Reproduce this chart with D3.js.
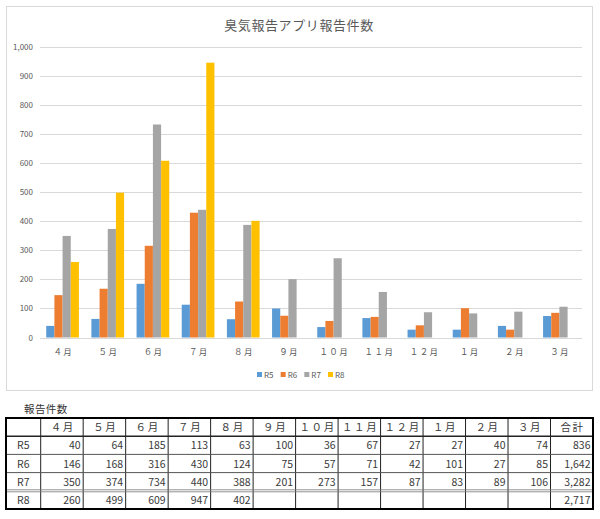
<!DOCTYPE html>
<html>
<head>
<meta charset="utf-8">
<script src="https://cdn.jsdelivr.net/npm/d3@7"></script>
<style>
    body { margin: 0; background: #fff; }
    text { font-family: "Noto Sans CJK JP", "Noto Sans", sans-serif; }
</style>
</head>
<body>
<div id="chart"></div>
<script>
// chart data
var chartTitle = "臭気報告アプリ報告件数";
var tableTitle = "報告件数";
var totalLabel = "合計";
var months = ["４月", "５月", "６月", "７月", "８月", "９月", "１０月", "１１月", "１２月", "１月", "２月", "３月"];
var seriesNames = ["R5", "R6", "R7", "R8"];
var r5 = [40, 64, 185, 113, 63, 100, 36, 67, 27, 27, 40, 74];
var r6 = [146, 168, 316, 430, 124, 75, 57, 71, 42, 101, 27, 85];
var r7 = [350, 374, 734, 440, 388, 201, 273, 157, 87, 83, 89, 106];
var r8 = [260, 499, 609, 947, 402, null, null, null, null, null, null, null];
var yTicks = [0, 100, 200, 300, 400, 500, 600, 700, 800, 900, 1000];

var app = app || {};

app.ReportChart = (function () {
    'use strict';

    var init = function (baseElement) {
        var config = configure(d3.select(baseElement));
        structure(config);
        bars(config);
        legend(config);
        table(config);
        return config;
    };

    var configure = function (base) {
        var colors, series;

        colors = {
            R5: "#5b9bd5", // blue
            R6: "#ed7d31", // orange
            R7: "#a5a5a5", // grey
            R8: "#ffc000", // yellow
            grid: "#d9d9d9",
            text: "#595959"
        };

        series = [r5, r6, r7, r8].map(function (values, i) {
            return { name: seriesNames[i], values: values };
        });

        return {
            base: base,
            width: 600,
            height: 519,
            colors: colors,
            series: series
        };
    };

    var structure = function (config) {
        var svg = config.base.append("svg")
            .attr("width", config.width)
            .attr("height", config.height);

        // chart frame
        svg.append("rect")
            .attr("x", 6.5).attr("y", 6.5)
            .attr("width", 586).attr("height", 384)
            .attr("fill", "#fff")
            .attr("stroke", config.colors.grid);

        svg.append("text")
            .attr("x", 299).attr("y", 30)
            .attr("text-anchor", "middle")
            .attr("font-size", 13)
            .attr("letter-spacing", 0.6)
            .attr("fill", config.colors.text)
            .text(chartTitle);

        config.x = d3.scaleBand().domain(months).range([40, 582])
            .paddingInner(0.276).paddingOuter(0.138);
        config.xs = d3.scaleBand().domain(seriesNames).range([0, config.x.bandwidth()]);
        config.y = d3.scaleLinear().domain([0, 1000]).range([337.5, 47.3]);

        // gridlines
        svg.append("g").selectAll("line")
            .data(yTicks)
            .enter().append("line")
            .attr("x1", 40).attr("x2", 582)
            .attr("y1", function (d) { return Math.round(config.y(d)) + 0.5; })
            .attr("y2", function (d) { return Math.round(config.y(d)) + 0.5; })
            .attr("stroke", config.colors.grid);

        svg.append("g").selectAll("text")
            .data(yTicks)
            .enter().append("text")
            .attr("x", 33)
            .attr("y", function (d) { return config.y(d) + 3; })
            .attr("text-anchor", "end")
            .attr("font-size", 8)
            .attr("fill", config.colors.text)
            .text(d3.format(","));

        svg.append("g").selectAll("text")
            .data(months)
            .enter().append("text")
            .attr("x", function (d) { return config.x(d) + config.x.bandwidth() / 2 + 0.7; })
            .attr("y", 355)
            .attr("text-anchor", "middle")
            .attr("font-size", 8.5)
            .attr("letter-spacing", 1.4)
            .attr("fill", config.colors.text)
            .text(function (d) { return d; });

        config.svg = svg;
    };

    var bars = function (config) {
        var groups = config.svg.append("g").selectAll("g")
            .data(config.series)
            .enter().append("g")
            .attr("fill", function (d) { return config.colors[d.name]; });

        groups.selectAll("rect")
            .data(function (s) {
                return s.values.map(function (v, i) {
                    return { name: s.name, month: months[i], value: v };
                }).filter(function (d) { return d.value != null; });
            })
            .enter().append("rect")
            .attr("x", function (d) { return config.x(d.month) + config.xs(d.name); })
            .attr("width", config.xs.bandwidth())
            .attr("y", function (d) { return config.y(d.value); })
            .attr("height", function (d) { return config.y(0) - config.y(d.value); });
    };

    var legend = function (config) {
        var lx = d3.scalePoint().domain(seriesNames).range([257, 328]);
        var items = config.svg.append("g").selectAll("g")
            .data(seriesNames)
            .enter().append("g")
            .attr("transform", function (d) { return "translate(" + lx(d) + ",372)"; });

        items.append("rect")
            .attr("width", 5).attr("height", 5)
            .attr("fill", function (d) { return config.colors[d]; });

        items.append("text")
            .attr("x", 7).attr("y", 5.5)
            .attr("font-size", 8)
            .attr("fill", config.colors.text)
            .text(function (d) { return d; });
    };

    var table = function (config) {
        var svg, cols, rows, fmt, cells, left, right, top, bottom, firstW;
        svg = config.svg;
        fmt = d3.format(",");
        left = 6; right = 593; top = 418; bottom = 509; firstW = 34.7;

        svg.append("text")
            .attr("x", 24).attr("y", 413)
            .attr("font-size", 10.5)
            .attr("letter-spacing", 0.4)
            .attr("fill", "#333")
            .text(tableTitle);

        cols = d3.scaleBand().domain(months.concat([totalLabel])).range([left + firstW, right]);
        rows = d3.scaleBand().domain(["head"].concat(seriesNames)).range([top, bottom]);

        var g = svg.append("g").attr("font-size", 10.5).attr("fill", "#3a3a3a");

        // header
        g.selectAll("text.head")
            .data(months.concat([totalLabel]))
            .enter().append("text")
            .attr("class", "head")
            .attr("x", function (d) { return cols(d) + cols.bandwidth() / 2 + 0.8; })
            .attr("y", rows("head") + rows.bandwidth() / 2 + 4)
            .attr("text-anchor", "middle")
            .attr("letter-spacing", 1.6)
            .text(function (d) { return d; });

        // row labels
        g.selectAll("text.row")
            .data(seriesNames)
            .enter().append("text")
            .attr("class", "row")
            .attr("x", left + firstW / 2)
            .attr("y", function (d) { return rows(d) + rows.bandwidth() / 2 + 4; })
            .attr("text-anchor", "middle")
            .text(function (d) { return d; });

        cells = [];
        config.series.forEach(function (s) {
            s.values.forEach(function (v, i) {
                if (v != null) cells.push({ row: s.name, col: months[i], text: fmt(v) });
            });
            cells.push({ row: s.name, col: totalLabel, text: fmt(d3.sum(s.values)) });
        });

        g.selectAll("text.cell")
            .data(cells)
            .enter().append("text")
            .attr("class", "cell")
            .attr("x", function (d) { return cols(d.col) + cols.bandwidth() - 2.5; })
            .attr("y", function (d) { return rows(d.row) + rows.bandwidth() / 2 + 4; })
            .attr("text-anchor", "end")
            .text(function (d) { return d.text; });

        // vertical lines
        svg.append("g").selectAll("line")
            .data(cols.domain())
            .enter().append("line")
            .attr("x1", function (d) { return cols(d); })
            .attr("x2", function (d) { return cols(d); })
            .attr("y1", top).attr("y2", bottom)
            .attr("stroke", "#222").attr("stroke-width", 1);

        // horizontal lines
        var hl = svg.append("g");
        hl.append("line")
            .attr("x1", left).attr("x2", right)
            .attr("y1", rows("R5")).attr("y2", rows("R5"))
            .attr("stroke", "#222").attr("stroke-width", 1.6);
        ["R6", "R7"].forEach(function (r) {
            hl.append("line")
                .attr("x1", left).attr("x2", right)
                .attr("y1", rows(r)).attr("y2", rows(r))
                .attr("stroke", "#555").attr("stroke-width", 1);
        });
        [-1, 1].forEach(function (o) {
            hl.append("line")
                .attr("x1", left).attr("x2", right)
                .attr("y1", rows("R8") + o).attr("y2", rows("R8") + o)
                .attr("stroke", "#777").attr("stroke-width", 0.8);
        });

        // outer border
        svg.append("rect")
            .attr("x", left).attr("y", top)
            .attr("width", right - left).attr("height", bottom - top)
            .attr("fill", "none")
            .attr("stroke", "#000").attr("stroke-width", 2);
    };

    return {
        init: init
    };

}());

app.ReportChart.init("#chart");
</script>
</body>
</html>
